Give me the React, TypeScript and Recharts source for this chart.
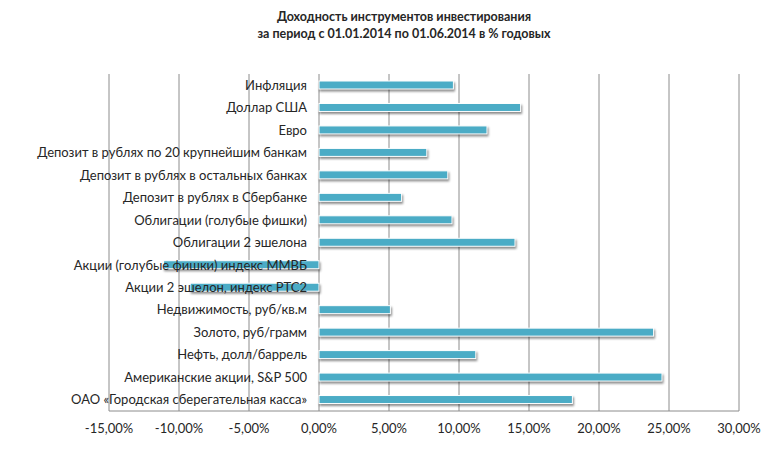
import React from 'react';
import { BarChart, Bar, XAxis, YAxis, CartesianGrid } from 'recharts';

const instruments = [
  'Инфляция',
  'Доллар США',
  'Евро',
  'Депозит в рублях по 20 крупнейшим банкам',
  'Депозит в рублях в остальных банках',
  'Депозит в рублях в Сбербанке',
  'Облигации (голубые фишки)',
  'Облигации 2 эшелона',
  'Акции (голубые фишки) индекс ММВБ',
  'Акции 2 эшелон, индекс РТС2',
  'Недвижимость, руб/кв.м',
  'Золото, руб/грамм',
  'Нефть, долл/баррель',
  'Американские акции, S&P 500',
  'ОАО «Городская сберегательная касса»',
];

const returns = [9.6, 14.4, 12.0, 7.7, 9.2, 5.9, 9.5, 14.0, -11.1, -9.2, 5.1, 23.9, 11.2, 24.5, 18.1];

const xTicks = [-15, -10, -5, 0, 5, 10, 15, 20, 25, 30];

const data = instruments.map((name, i) => ({ name, value: returns[i] }));

const W = 769;
const H = 449;
const M = { top: 74, right: 30, bottom: 8, left: 108 };
const FONT = 'Lato, "Open Sans", sans-serif';

// y labels sit just left of the zero line, like the Excel original
const plotLeft = M.left + 1;
const zeroX = plotLeft + ((W - plotLeft - M.right) * (0 - xTicks[0])) / (xTicks[xTicks.length - 1] - xTicks[0]);

const renderCategoryTick = (props: any) => {
  const { y, payload } = props;
  return (
    <text x={zeroX - 12} y={y} dy="0.35em" textAnchor="end" fontSize={13} fill="#262626" fontFamily={FONT}>
      {payload.value}
    </text>
  );
};

const ShadowBar = (props: any) => {
  const { x, y, width, height } = props;
  const rx = width < 0 ? x + width : x;
  return (
    <rect
      x={rx}
      y={y}
      width={Math.abs(width)}
      height={height}
      fill="#4BACC6"
      stroke="#ffffff"
      strokeWidth={1}
      style={{ filter: 'drop-shadow(1.5px 2px 1.2px rgba(0,0,0,0.45))' }}
    />
  );
};

export default function App() {
  return (
    <div style={{ position: 'absolute', left: 0, top: 0, width: W, height: H, background: '#fff' }}>
      <div
        style={{
          position: 'absolute',
          left: 0,
          top: 8,
          width: 808,
          textAlign: 'center',
          fontFamily: FONT,
          fontWeight: 'bold',
          fontSize: 12.5,
          lineHeight: '17px',
          color: '#262626',
        }}
      >
        Доходность инструментов инвестирования
        <br />
        за период с 01.01.2014 по 01.06.2014 в % годовых
      </div>
      <BarChart width={W} height={H} data={data} layout="vertical" margin={M} barSize={8}>
        <CartesianGrid horizontal={false} stroke="#8c8c8c" />
        <XAxis
          type="number"
          domain={[-15, 30]}
          ticks={xTicks}
          interval={0}
          tickFormatter={(v: number) => `${v.toFixed(2).replace('.', ',')}%`}
          tickLine={false}
          tickSize={0}
          tickMargin={13}
          height={30}
          axisLine={{ stroke: '#8c8c8c' }}
          tick={{ fontSize: 13, fill: '#262626', fontFamily: FONT }}
        />
        <Bar dataKey="value" isAnimationActive={false} shape={<ShadowBar />} />
        <YAxis
          type="category"
          dataKey="name"
          width={1}
          axisLine={false}
          tickLine={false}
          interval={0}
          tick={renderCategoryTick}
        />
      </BarChart>
    </div>
  );
}
